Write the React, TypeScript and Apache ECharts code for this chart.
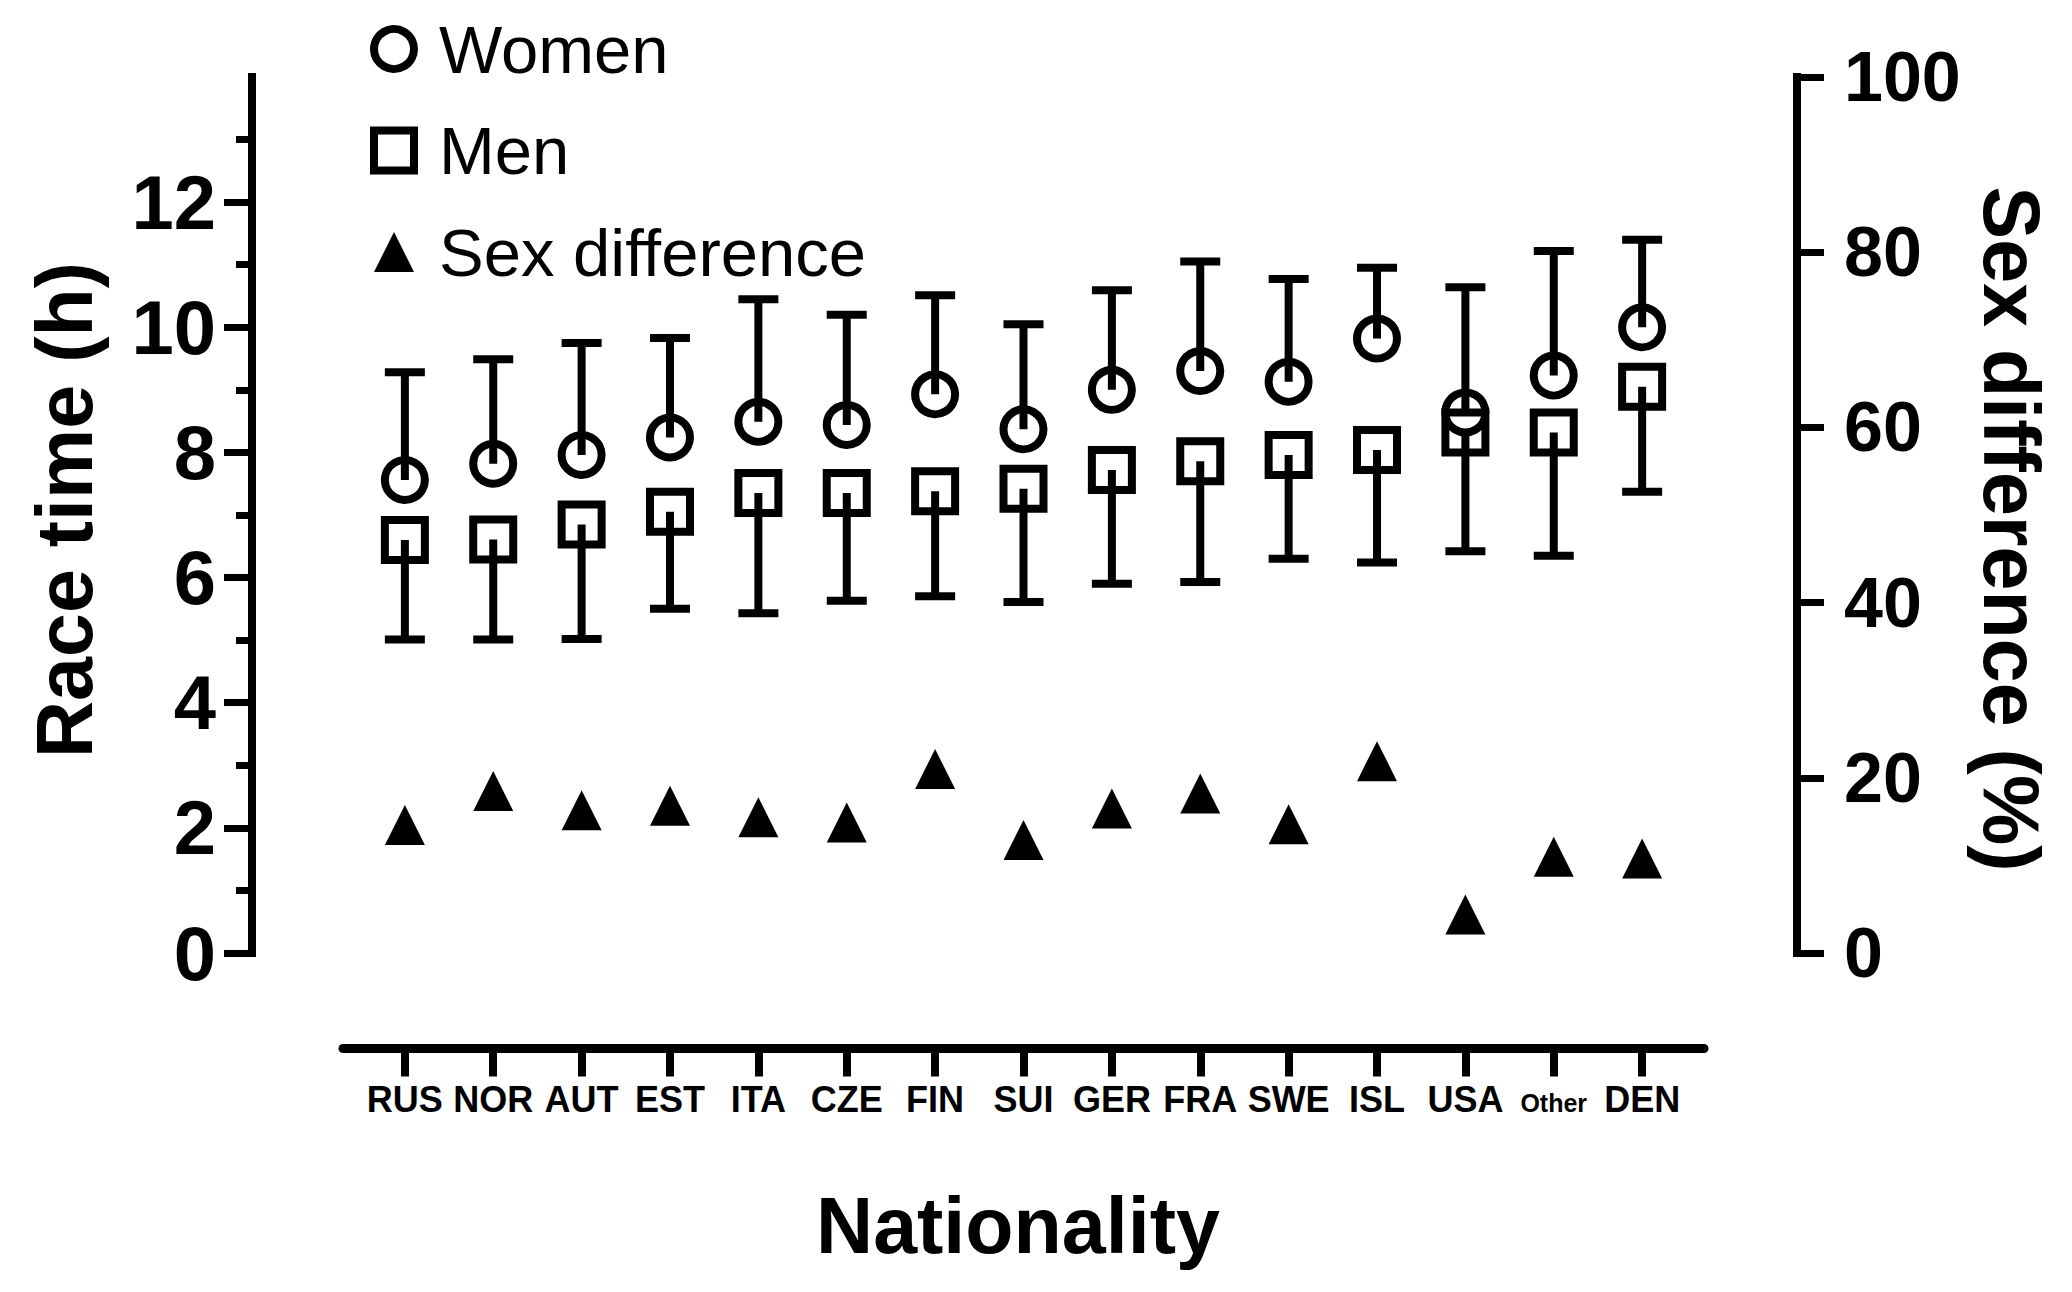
import React, { useEffect, useRef } from "react";
import * as echarts from "echarts";

// ---- Data ----
const categories = ["RUS", "NOR", "AUT", "EST", "ITA", "CZE", "FIN", "SUI", "GER", "FRA", "SWE", "ISL", "USA", "Other", "DEN"];
const womenMean = [7.56, 7.82, 7.96, 8.24, 8.49, 8.44, 8.93, 8.37, 9.0, 9.3, 9.13, 9.82, 8.64, 9.23, 10.0];
const womenUpper = [9.28, 9.49, 9.75, 9.83, 10.45, 10.2, 10.51, 10.05, 10.59, 11.05, 10.77, 10.95, 10.64, 11.22, 11.4];
const menMean = [6.6, 6.61, 6.85, 7.05, 7.35, 7.35, 7.38, 7.42, 7.72, 7.86, 7.96, 8.04, 8.32, 8.32, 9.05];
const menLower = [5.01, 5.01, 5.02, 5.5, 5.43, 5.63, 5.7, 5.61, 5.9, 5.93, 6.3, 6.24, 6.42, 6.35, 7.37];
const sexDiff = [14.6, 18.5, 16.3, 16.8, 15.5, 14.9, 21.0, 12.9, 16.5, 18.2, 14.7, 21.9, 4.4, 11.0, 10.8];

const leftMajorTicks = [0, 2, 4, 6, 8, 10, 12];
const leftMinorTicks = [1, 3, 5, 7, 9, 11, 13];
const rightTicks = [0, 20, 40, 60, 80, 100];

const FONT = "'Liberation Sans', Arial, Helvetica, sans-serif";
const BLACK = "#000";

const catIndex = categories.map((_, i) => i);

function errorBarRenderItem(params: any, api: any) {
  const x = api.value(0);
  const m = api.value(1);
  const e = api.value(2);
  const p0 = api.coord([x, m]);
  const p1 = api.coord([x, e]);
  const half = 20;
  const style = { stroke: BLACK, lineWidth: 8, fill: "none" };
  return {
    type: "group",
    children: [
      { type: "line", shape: { x1: p0[0], y1: p0[1], x2: p1[0], y2: p1[1] }, style },
      { type: "line", shape: { x1: p1[0] - half, y1: p1[1], x2: p1[0] + half, y2: p1[1] }, style },
    ],
  };
}

function buildOption() {
  return {
    animation: false,
    backgroundColor: "#fff",
    textStyle: { fontFamily: FONT, color: BLACK },
    grid: { left: 343, right: 368, top: 77, bottom: 339, containLabel: false },
    legend: {
      show: true,
      orient: "vertical",
      left: 370,
      top: 15.5,
      padding: 0,
      itemWidth: 40,
      itemHeight: 40,
      itemGap: 34.5,
      selectedMode: false,
      formatter: (name: string) => `{t|${name}}`,
      textStyle: {
        color: BLACK,
        fontFamily: FONT,
        fontSize: 67,
        rich: {
          t: { fontSize: 67, fontFamily: FONT, color: BLACK, padding: [0, 0, 0, 20] },
        },
      },
      data: [
        { name: "Women", icon: "circle", itemStyle: { color: "rgba(255,255,255,0)", borderColor: BLACK, borderWidth: 8 } },
        { name: "Men", icon: "rect", itemStyle: { color: "rgba(255,255,255,0)", borderColor: BLACK, borderWidth: 8 } },
        { name: "Sex difference", icon: "triangle", itemStyle: { color: BLACK, borderWidth: 0 } },
      ],
    },
    xAxis: {
      type: "value",
      min: -0.7,
      max: 14.7,
      position: "bottom",
      offset: 95.5,
      splitLine: { show: false },
      axisLine: { show: true, onZero: false, lineStyle: { color: BLACK, width: 9 } },
      axisTick: { show: true, customValues: catIndex, length: 28, lineStyle: { color: BLACK, width: 8 } },
      axisLabel: {
        show: true,
        customValues: catIndex,
        margin: 33,
        color: BLACK,
        fontFamily: FONT,
        fontWeight: "bold",
        fontSize: 36,
        formatter: (v: number) => {
          const name = categories[Math.round(v)];
          if (name === "Other") return `{small|${name}}`;
          return name;
        },
        rich: {
          small: { fontSize: 25, fontWeight: "bold", fontFamily: FONT, color: BLACK, padding: [9, 0, 0, 0] },
        },
      },
    },
    yAxis: [
      {
        type: "value",
        min: 0,
        max: 14,
        interval: 2,
        position: "left",
        offset: 91,
        splitLine: { show: false },
        axisLine: { show: true, onZero: false, lineStyle: { color: BLACK, width: 8, cap: "square" } },
        axisTick: { show: true, customValues: leftMajorTicks, length: 28, lineStyle: { color: BLACK, width: 7 } },
        axisLabel: {
          show: true,
          customValues: leftMajorTicks,
          margin: 36,
          color: BLACK,
          fontFamily: FONT,
          fontWeight: "bold",
          fontSize: 76,
        },
      },
      {
        type: "value",
        min: 0,
        max: 100,
        interval: 20,
        position: "right",
        offset: 93,
        splitLine: { show: false },
        axisLine: { show: true, onZero: false, lineStyle: { color: BLACK, width: 8, cap: "square" } },
        axisTick: { show: true, customValues: rightTicks, length: 27, lineStyle: { color: BLACK, width: 7 } },
        axisLabel: {
          show: true,
          customValues: rightTicks,
          margin: 47,
          color: BLACK,
          fontFamily: FONT,
          fontWeight: "bold",
          fontSize: 70,
        },
      },
      {
        type: "value",
        min: 0,
        max: 14,
        interval: 1,
        position: "left",
        offset: 91,
        splitLine: { show: false },
        axisLine: { show: false, onZero: false },
        axisTick: { show: true, customValues: leftMinorTicks, length: 16, lineStyle: { color: BLACK, width: 7 } },
        axisLabel: { show: false },
      },
    ],
    graphic: [
      {
        type: "text",
        x: 64,
        y: 510,
        rotation: Math.PI / 2,
        style: {
          text: "Race time (h)",
          fontFamily: FONT,
          fontWeight: "bold",
          fontSize: 79,
          fill: BLACK,
          align: "center",
          verticalAlign: "middle",
          textAlign: "center",
          textVerticalAlign: "middle",
        },
      },
      {
        type: "text",
        x: 2011,
        y: 529,
        rotation: -Math.PI / 2,
        style: {
          text: "Sex difference (%)",
          fontFamily: FONT,
          fontWeight: "bold",
          fontSize: 79,
          fill: BLACK,
          align: "center",
          verticalAlign: "middle",
          textAlign: "center",
          textVerticalAlign: "middle",
        },
      },
      {
        type: "text",
        x: 1018,
        y: 1225,
        style: {
          text: "Nationality",
          fontFamily: FONT,
          fontWeight: "bold",
          fontSize: 79,
          fill: BLACK,
          align: "center",
          verticalAlign: "middle",
          textAlign: "center",
          textVerticalAlign: "middle",
        },
      },
    ],
    series: [
      {
        name: "Women SD",
        type: "custom",
        xAxisIndex: 0,
        yAxisIndex: 0,
        renderItem: errorBarRenderItem,
        encode: { x: 0, y: [1, 2] },
        data: catIndex.map((i) => [i, womenMean[i], womenUpper[i]]),
        z: 2,
        silent: true,
      },
      {
        name: "Men SD",
        type: "custom",
        xAxisIndex: 0,
        yAxisIndex: 0,
        renderItem: errorBarRenderItem,
        encode: { x: 0, y: [1, 2] },
        data: catIndex.map((i) => [i, menMean[i], menLower[i]]),
        z: 2,
        silent: true,
      },
      {
        name: "Women",
        type: "scatter",
        xAxisIndex: 0,
        yAxisIndex: 0,
        symbol: "circle",
        symbolSize: 40,
        itemStyle: { color: "rgba(255,255,255,0)", borderColor: BLACK, borderWidth: 8, opacity: 1 },
        data: catIndex.map((i) => [i, womenMean[i]]),
        z: 3,
        silent: true,
      },
      {
        name: "Men",
        type: "scatter",
        xAxisIndex: 0,
        yAxisIndex: 0,
        symbol: "rect",
        symbolSize: 40,
        itemStyle: { color: "rgba(255,255,255,0)", borderColor: BLACK, borderWidth: 8, opacity: 1 },
        data: catIndex.map((i) => [i, menMean[i]]),
        z: 3,
        silent: true,
      },
      {
        name: "Sex difference",
        type: "scatter",
        xAxisIndex: 0,
        yAxisIndex: 1,
        symbol: "triangle",
        symbolSize: 40,
        itemStyle: { color: BLACK, borderWidth: 0, opacity: 1 },
        data: catIndex.map((i) => [i, sexDiff[i]]),
        z: 3,
        silent: true,
      },
    ],
  };
}

export default function App() {
  const ref = useRef<HTMLDivElement>(null);
  useEffect(() => {
    document.body.style.margin = "0";
    if (!ref.current) return;
    const chart = echarts.init(ref.current, null, { renderer: "svg" });
    chart.setOption(buildOption() as any);
    return () => {
      chart.dispose();
    };
  }, []);
  return <div ref={ref} style={{ width: 2072, height: 1292, background: "#fff" }} />;
}
